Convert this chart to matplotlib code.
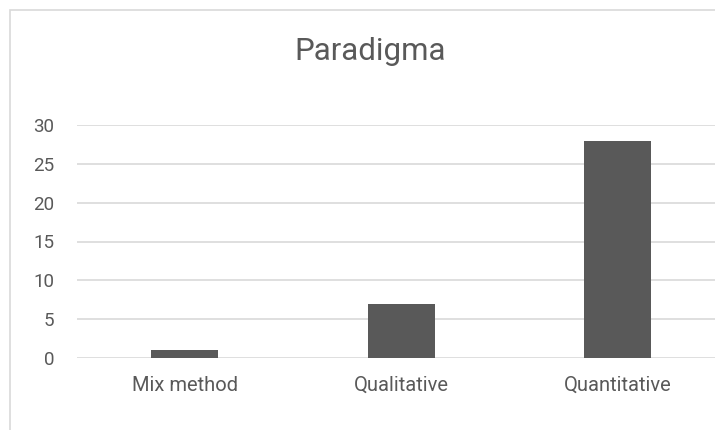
import matplotlib.pyplot as plt
from matplotlib.patches import Rectangle

# Data
categories = ['Mix method', 'Qualitative', 'Quantitative']
counts = [1, 7, 28]
yticks = [0, 5, 10, 15, 20, 25, 30]

text_color = '#595959'
bar_color = '#595959'
grid_color = '#d9d9d9'

plt.rcParams['font.family'] = ['Roboto', 'DejaVu Sans']

fig = plt.figure(figsize=(7.15, 4.3), dpi=100)
ax = fig.add_axes([76.5 / 715, 1 - 358 / 430, (715 - 76.5) / 715, (358 - 125) / 430])

# chart frame (cropped on right and bottom)
fig.patches.append(Rectangle((10 / 715, -0.1), 1.2, 1 - 10 / 430 + 0.1,
                             transform=fig.transFigure, fill=False,
                             edgecolor=grid_color, linewidth=1.2))

x = range(len(categories))
ax.bar(x, counts, width=0.31, color=bar_color, zorder=3)

ax.set_xlim(-0.5, 2.45)
ax.set_ylim(0, 30)
ax.set_yticks(yticks)
ax.set_xticks(list(x))
ax.set_xticklabels(categories)
ax.grid(axis='y', color=grid_color, linewidth=1.2, zorder=0)
ax.set_axisbelow(True)

for s in ax.spines.values():
    s.set_visible(False)
ax.tick_params(axis='both', length=0, colors=text_color, labelsize=13.5)
ax.tick_params(axis='x', labelsize=14.5, pad=13)
ax.tick_params(axis='y', pad=16)

fig.text(370 / 715, 1 - 52 / 430, 'Paradigma', ha='center', va='center',
         fontsize=22.5, color=text_color)

fig.savefig('out.png', dpi=100)
